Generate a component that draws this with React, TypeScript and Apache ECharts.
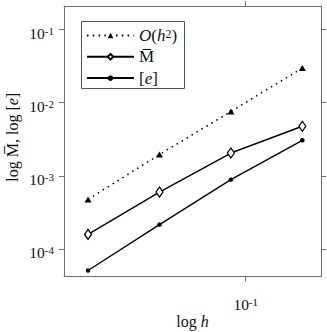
import React, { useEffect, useRef } from 'react';
import * as echarts from 'echarts';

// Data (log-log plot)
const hValues = [0.02165, 0.0433, 0.0866, 0.1732];
const orderRef = [0.000476, 0.00195, 0.00757, 0.0297];
const mBar = [0.000158, 0.0006, 0.00205, 0.00476];
const errE = [0.0000507, 0.000215, 0.000887, 0.00306];
const xTicks = [0.1];
const yTicks = [0.1, 0.01, 0.001, 0.0001];
const xRange = [0.01715, 0.2076];
const yRange = [0.000042, 0.2099];
const seriesNames = ['O', 'M', 'e'];

const FONT = 'Liberation Serif';
const AXIS_COLOR = '#6e6e6e';

const tickRich = {
  b: { fontFamily: FONT, fontSize: 15.5, lineHeight: 16, color: '#111' },
  s: { fontFamily: FONT, fontSize: 11, lineHeight: 6, verticalAlign: 'top', color: '#111' },
};

const textRich = {
  r: { fontFamily: FONT, fontSize: 16, lineHeight: 16, color: '#111' },
  i: { fontFamily: FONT, fontSize: 16, lineHeight: 16, fontStyle: 'italic', color: '#111' },
  s: { fontFamily: FONT, fontSize: 11, lineHeight: 6, verticalAlign: 'top', color: '#111' },
};

const legendRich = {
  r: { fontFamily: FONT, fontSize: 17, lineHeight: 15, color: '#111' },
  i: { fontFamily: FONT, fontSize: 17, lineHeight: 15, fontStyle: 'italic', color: '#111' },
  s: { fontFamily: FONT, fontSize: 12, lineHeight: 5, verticalAlign: 'top', color: '#111' },
};

const powLabel = (v: number) => {
  const e = Math.round(Math.log10(v));
  return `{b|10}{s|${e}}`;
};

const toPairs = (ys: number[]) => hValues.map((h, i) => [h, ys[i]]);

export default function App() {
  const ref = useRef<HTMLDivElement>(null);
  useEffect(() => {
    if (!ref.current) return;
    const chart = echarts.init(ref.current, undefined, { renderer: 'svg' });
    const axisLine = { show: true, lineStyle: { color: AXIS_COLOR, width: 1 } };
    const option: any = {
      animation: false,
      backgroundColor: '#fff',
      grid: { left: 64, right: 6, top: 6, bottom: 55.5, outerBoundsMode: 'none' },
      graphic: [
        {
          type: 'rect',
          left: 81,
          top: 21,
          shape: { width: 103, height: 67 },
          style: { fill: '#fff', stroke: '#555', lineWidth: 1 },
          z: 50,
        },
      ],
      xAxis: [
        {
          type: 'log',
          min: xRange[0],
          max: xRange[1],
          position: 'bottom',
          axisLine,
          axisTick: { show: true, length: 5, customValues: xTicks, lineStyle: { color: AXIS_COLOR } },
          minorTick: { show: false },
          splitLine: { show: false },
          axisLabel: { customValues: xTicks, formatter: powLabel, rich: tickRich, margin: 20 },
          name: '{r|log }{i|h}',
          nameLocation: 'middle',
          nameGap: 37,
          nameMoveOverlap: false,
          nameTextStyle: { rich: textRich, lineHeight: 16 },
        },
        {
          type: 'log',
          min: xRange[0],
          max: xRange[1],
          position: 'top',
          axisLine,
          axisTick: { show: true, length: 5, customValues: xTicks, lineStyle: { color: AXIS_COLOR } },
          minorTick: { show: false },
          splitLine: { show: false },
          axisLabel: { show: false },
        },
      ],
      yAxis: [
        {
          type: 'log',
          min: yRange[0],
          max: yRange[1],
          position: 'left',
          axisLine,
          axisTick: { show: true, length: 5, customValues: yTicks, lineStyle: { color: AXIS_COLOR } },
          minorTick: { show: false },
          splitLine: { show: false },
          axisLabel: { customValues: yTicks, formatter: powLabel, rich: tickRich, margin: 10, padding: [7, 0, 0, 0] },
          name: '{r|log M\u0305, log [}{i|e}{r|]}',
          nameLocation: 'middle',
          nameGap: 44,
          nameMoveOverlap: false,
          nameTextStyle: { rich: textRich, lineHeight: 16, padding: [0, 0, 0, 8] },
        },
        {
          type: 'log',
          min: yRange[0],
          max: yRange[1],
          position: 'right',
          axisLine,
          axisTick: { show: true, length: 5, customValues: yTicks, lineStyle: { color: AXIS_COLOR } },
          minorTick: { show: false },
          splitLine: { show: false },
          axisLabel: { show: false },
        },
      ],
      legend: {
        orient: 'vertical',
        left: 81,
        top: 21,
        padding: [6, 10, 7, 5],
        itemWidth: 47,
        itemHeight: 7,
        itemGap: 4.3,
        selectedMode: false,
        z: 60,
        data: seriesNames,
        textStyle: { fontFamily: FONT, fontSize: 17, lineHeight: 15, color: '#111', rich: legendRich },
        formatter: (name: string) => {
          if (name === 'O') return '{i|O}{r|(}{i|h}{s|2}{r|)}';
          if (name === 'M') return '{r|M\u0305}';
          return '{r|[}{i|e}{r|]}';
        },
      },
      series: [
        {
          name: 'O',
          type: 'line',
          data: toPairs(orderRef),
          symbol: 'triangle',
          symbolSize: [7, 6],
          itemStyle: { color: '#000' },
          lineStyle: { color: '#000', width: 1.5, type: [1.5, 4.3] },
          z: 3,
        },
        {
          name: 'M',
          type: 'line',
          data: toPairs(mBar),
          symbol: 'diamond',
          symbolSize: [7, 10],
          itemStyle: { color: '#fff', borderColor: '#000', borderWidth: 1.3 },
          lineStyle: { color: '#000', width: 1.4 },
          z: 3,
        },
        {
          name: 'e',
          type: 'line',
          data: toPairs(errE),
          symbol: 'circle',
          symbolSize: 4.5,
          itemStyle: { color: '#000' },
          lineStyle: { color: '#000', width: 1.4 },
          z: 3,
        },
      ],
    };
    chart.setOption(option);
    return () => chart.dispose();
  }, []);
  return (
    <div
      ref={ref}
      style={{ position: 'fixed', left: 0, top: 0, width: 327, height: 332, background: '#fff' }}
    />
  );
}
